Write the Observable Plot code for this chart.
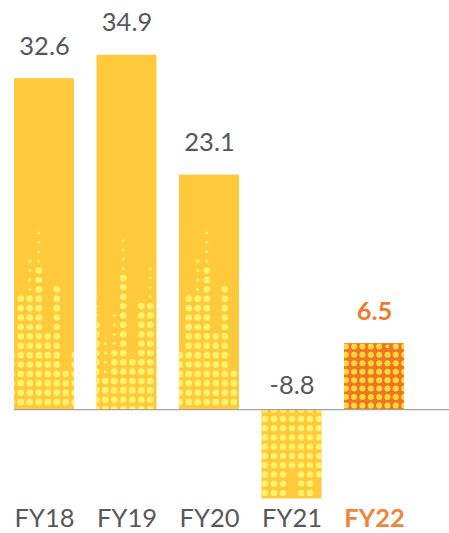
<!DOCTYPE html>
<html>
<head>
<meta charset="utf-8">
<script src="https://cdn.jsdelivr.net/npm/d3@7"></script>
<script src="https://cdn.jsdelivr.net/npm/@observablehq/plot@0.6"></script>
<style>
html, body { margin: 0; padding: 0; background: #fff; overflow: hidden; }
#chart svg { display: block; }
</style>
</head>
<body>
<div id="chart"></div>
<script>
// ---- data ----
const categories = ["FY18", "FY19", "FY20", "FY21", "FY22"];
const values = [32.6, 34.9, 23.1, -8.8, 6.5];
const highlight = "FY22";

// decorative dot texture: per column, number of big dots then small dots stacked on top
const fy18Big   = [6, 12, 12, 15, 8, 13, 4, 6];
const fy18Small = [0, 0, 4, 4, 0, 0, 0, 0];
const fy19Big   = [10, 4, 7, 15, 6, 12, 12, 11];
const fy19Small = [3, 4, 4, 4, 0, 0, 4, 4];
const fy20Big   = [6, 12, 12, 15, 8, 13, 4];
const fy20Small = [0, 0, 4, 4, 0, 0, 0];
const fy21Big   = [10, 10, 10, 7, 10, 10, 8];
const fy21Small = [0, 0, 0, 0, 0, 0, 0];
const fy22Big   = [8, 8, 8, 8, 8, 7, 8, 8];
const fy22Small = [0, 0, 0, 0, 0, 1, 0, 0];

// ---- layout / style ----
const W = 449, H = 533, MT = 3, MB = 2;
const yDomain = [-12, 40];
const PX_Y = (H - MT - MB) / (yDomain[1] - yDomain[0]);
const PX_X = 82.5;            // px per category step
const FIRST = 44;             // px of first bar centre
const xDomain = [-FIRST / PX_X, (W - FIRST) / PX_X];
const HALF = 30 / PX_X;       // half bar width in x units

const YELLOW = "#ffc93c", ORANGE = "#ee7623";
const TEXT = "#58585a", TEXT_HI = "#ee7a2a", LABEL_HI = "#f0843c";
const FONT = "Lato, 'Open Sans', sans-serif";

const textures = [
  {start: -32.7, step: 9,    row0: 7.5, rowStep: 9.4,  dir: 1,  big: 3.3, small: 1.5, color: "#fff36e"},
  {start: -30.7, step: 9,    row0: 0.5, rowStep: 9.37, dir: 1,  big: 3.3, small: 1.5, color: "#fff36e"},
  {start: -29.7, step: 9,    row0: 7.5, rowStep: 9.4,  dir: 1,  big: 3.3, small: 1.5, color: "#fff36e"},
  {start: -27,   step: 9,    row0: 0,   rowStep: 9.25, dir: -1, big: 3.2, small: 1.5, color: "#fff26c"},
  {start: -28.7, step: 8.33, row0: 4.2, rowStep: 8.43, dir: 1,  big: 3.0, small: 1.9, color: "#ffd83c"}
];
const bigCols = [fy18Big, fy19Big, fy20Big, fy21Big, fy22Big];
const smallCols = [fy18Small, fy19Small, fy20Small, fy21Small, fy22Small];

const bars = categories.map((cat, i) => ({cat, i, value: values[i]}));

function texture(i, small) {
  const t = textures[i], out = [];
  bigCols[i].forEach((nb, k) => {
    const ns = smallCols[i][k];
    for (let r = 0; r < nb + ns; r++) {
      const isBig = r < nb;
      if (isBig === !small) {
        out.push({
          x: i + (t.start + k * t.step) / PX_X,
          y: t.dir * (t.row0 + r * t.rowStep) / PX_Y
        });
      }
    }
  });
  return out;
}

const dotMarks = [];
bars.forEach((b, i) => {
  const t = textures[i];
  dotMarks.push(Plot.dot(texture(i, false), {x: "x", y: "y", r: t.big, fill: t.color, stroke: null, ariaDescription: "bar-" + i}));
  dotMarks.push(Plot.dot(texture(i, true), {x: "x", y: "y", r: t.small, fill: t.color, stroke: null, ariaDescription: "bar-" + i}));
});

const plot = Plot.plot({
  width: W, height: H,
  marginTop: MT, marginBottom: MB, marginLeft: 0, marginRight: 0,
  x: {domain: xDomain, axis: null},
  y: {domain: yDomain, axis: null},
  color: {type: "identity"},
  style: {fontFamily: FONT, background: "#fff"},
  marks: [
    Plot.rect(bars, {
      x1: d => d.i - HALF, x2: d => d.i + HALF,
      y1: d => 0, y2: "value",
      fill: d => d.cat === highlight ? ORANGE : YELLOW
    }),
    ...dotMarks,
    Plot.ruleY([0], {x1: () => -HALF, x2: () => xDomain[1], stroke: "#a3a3a3", strokeWidth: 1.4}),
    // value labels
    Plot.text(bars.filter(d => d.value >= 0 && d.cat !== highlight), {
      x: "i", y: "value", text: d => d.value.toFixed(1), dy: -32,
      fill: TEXT, fontSize: 25.5, fontFamily: FONT, lineAnchor: "middle"
    }),
    Plot.text(bars.filter(d => d.value < 0), {
      x: "i", y: d => 0, text: d => d.value.toFixed(1), dy: -24,
      fill: TEXT, fontSize: 25.5, fontFamily: FONT, lineAnchor: "middle"
    }),
    Plot.text(bars.filter(d => d.cat === highlight), {
      x: "i", y: "value", text: d => d.value.toFixed(1), dy: -32,
      fill: TEXT_HI, fontSize: 25.5, fontWeight: "bold", fontFamily: FONT, lineAnchor: "middle"
    }),
    // category labels
    Plot.text(bars.filter(d => d.cat !== highlight), {
      x: "i", text: "cat", frameAnchor: "bottom", dy: -13,
      fill: TEXT, fontSize: 25.5, fontFamily: FONT, lineAnchor: "middle"
    }),
    Plot.text(bars.filter(d => d.cat === highlight), {
      x: "i", text: "cat", frameAnchor: "bottom", dy: -13,
      fill: LABEL_HI, fontSize: 25.5, fontWeight: "bold", fontFamily: FONT, lineAnchor: "middle"
    })
  ]
});

// clip each bar's dot texture to the bar drawn by Plot
(function clipTextures(svg) {
  const ns = "http://www.w3.org/2000/svg";
  const defs = document.createElementNS(ns, "defs");
  svg.insertBefore(defs, svg.firstChild);
  const rectG = svg.querySelector('g[aria-label="rect"]');
  const rects = rectG ? rectG.querySelectorAll("rect") : [];
  rects.forEach((rc, i) => {
    const cp = document.createElementNS(ns, "clipPath");
    cp.setAttribute("id", "clip-bar-" + i);
    const r2 = rc.cloneNode(false);
    r2.removeAttribute("fill");
    const tr = [rectG.getAttribute("transform"), rc.getAttribute("transform")].filter(Boolean).join(" ");
    if (tr) r2.setAttribute("transform", tr);
    cp.appendChild(r2);
    defs.appendChild(cp);
  });
  svg.querySelectorAll('g[aria-description^="bar-"]').forEach(g => {
    const i = g.getAttribute("aria-description").split("-")[1];
    const wrap = document.createElementNS(ns, "g");
    wrap.setAttribute("clip-path", `url(#clip-bar-${i})`);
    g.parentNode.insertBefore(wrap, g);
    wrap.appendChild(g);
  });
})(plot.tagName.toLowerCase() === "svg" ? plot : plot.querySelector("svg"));

document.getElementById("chart").appendChild(plot);
</script>
</body>
</html>
